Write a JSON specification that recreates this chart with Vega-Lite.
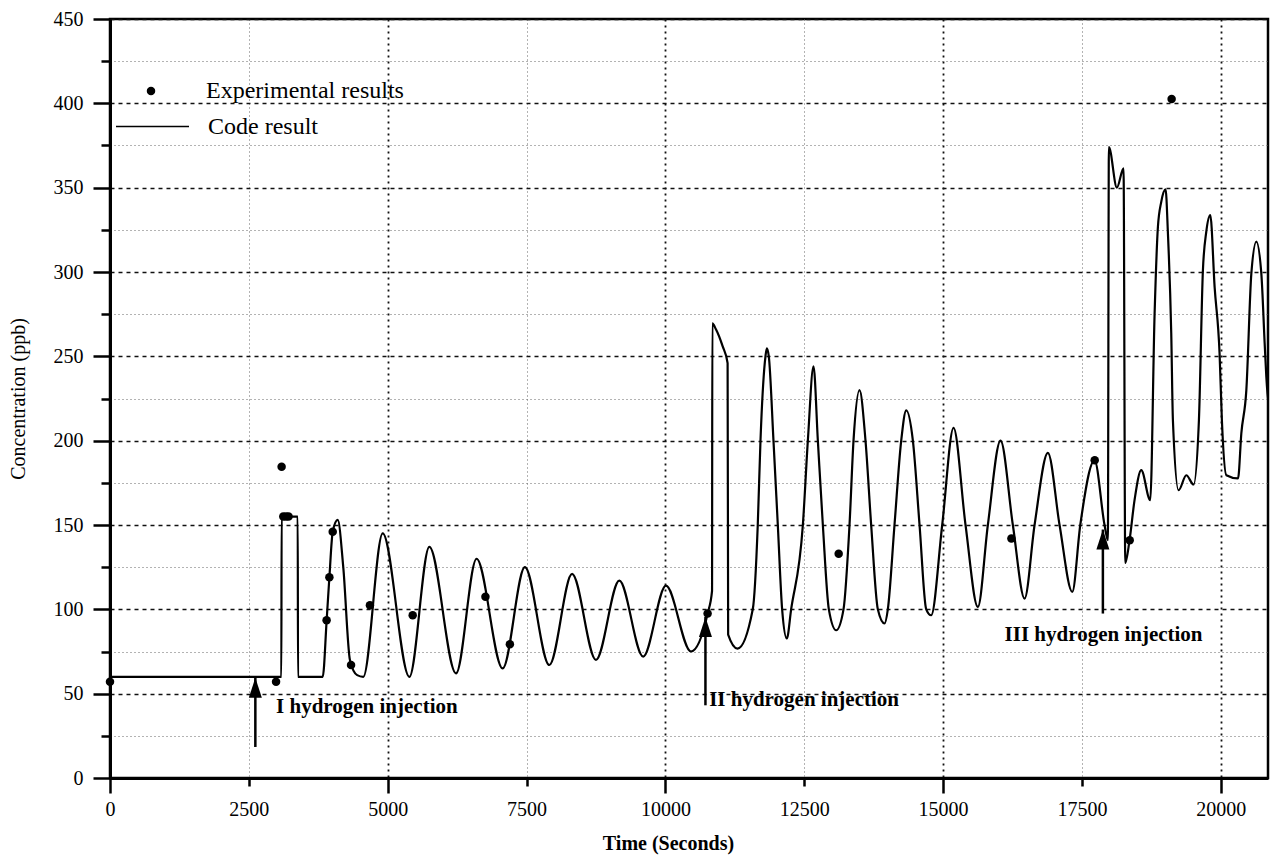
{
  "$schema": "https://vega.github.io/schema/vega-lite/v6.json",
  "width": 1158,
  "height": 759,
  "autosize": {"type": "none"},
  "padding": {"left": 110, "top": 19, "right": 3, "bottom": 82},
  "background": "white",
  "config": {"view": {"stroke": "black", "strokeWidth": 2.5}, "font": "Liberation Serif"},
  "datasets": {
    "code": [
      {"t": 0, "v": 60}, {"t": 3085, "v": 60}, {"t": 3090, "v": 155}, {"t": 3380, "v": 155}, {"t": 3385, "v": 60}, {"t": 3830, "v": 60},
      {"t": 3900, "v": 93}, {"t": 3950, "v": 119}, {"t": 4010, "v": 146}, {"t": 4100, "v": 153}, {"t": 4200, "v": 125}, {"t": 4320, "v": 70}, {"t": 4450, "v": 61}, {"t": 4560, "v": 60},
      {"t": 4910, "v": 145}, {"t": 5390, "v": 60}, {"t": 5750, "v": 137}, {"t": 6230, "v": 62}, {"t": 6600, "v": 130}, {"t": 7070, "v": 65},
      {"t": 7470, "v": 125}, {"t": 7910, "v": 67}, {"t": 8320, "v": 121}, {"t": 8750, "v": 70}, {"t": 9170, "v": 117}, {"t": 9600, "v": 72},
      {"t": 10010, "v": 114}, {"t": 10460, "v": 75}, {"t": 10760, "v": 97.5}, {"t": 10840, "v": 111}, {"t": 10845, "v": 269.5}, {"t": 10910, "v": 266},
      {"t": 11030, "v": 256}, {"t": 11120, "v": 246}, {"t": 11130, "v": 85}, {"t": 11300, "v": 76.7},
      {"t": 11573, "v": 100}, {"t": 11663, "v": 150}, {"t": 11712, "v": 200}, {"t": 11802, "v": 250}, {"t": 11826, "v": 254.7}, {"t": 11862, "v": 250}, {"t": 11946, "v": 200}, {"t": 12024, "v": 150}, {"t": 12102, "v": 100}, {"t": 12186, "v": 82.7},
      {"t": 12264, "v": 100}, {"t": 12475, "v": 150}, {"t": 12565, "v": 200}, {"t": 12667, "v": 244}, {"t": 12745, "v": 200}, {"t": 12835, "v": 150}, {"t": 12943, "v": 100}, {"t": 13075, "v": 87.6},
      {"t": 13207, "v": 100}, {"t": 13315, "v": 150}, {"t": 13387, "v": 200}, {"t": 13495, "v": 230}, {"t": 13603, "v": 200}, {"t": 13705, "v": 150}, {"t": 13825, "v": 100}, {"t": 13945, "v": 91.6},
      {"t": 14005, "v": 100}, {"t": 14125, "v": 150}, {"t": 14246, "v": 200}, {"t": 14336, "v": 218}, {"t": 14456, "v": 200}, {"t": 14576, "v": 150}, {"t": 14696, "v": 100}, {"t": 14786, "v": 96.5},
      {"t": 14984, "v": 150}, {"t": 15188, "v": 207.6}, {"t": 15404, "v": 150}, {"t": 15626, "v": 101.4},
      {"t": 15806, "v": 150}, {"t": 16034, "v": 200}, {"t": 16256, "v": 150}, {"t": 16467, "v": 106.4},
      {"t": 16647, "v": 150}, {"t": 16887, "v": 192.8}, {"t": 17097, "v": 150}, {"t": 17326, "v": 110.3},
      {"t": 17470, "v": 150}, {"t": 17727, "v": 188.4}, {"t": 17907, "v": 150}, {"t": 17967, "v": 141}, {"t": 17985, "v": 374}, {"t": 18129, "v": 350}, {"t": 18249, "v": 361.4},
      {"t": 18280, "v": 127.5}, {"t": 18357, "v": 141}, {"t": 18447, "v": 164.7}, {"t": 18568, "v": 182.5}, {"t": 18730, "v": 164.7}, {"t": 18808, "v": 275}, {"t": 18868, "v": 326.8},
      {"t": 18928, "v": 341.6}, {"t": 19006, "v": 349}, {"t": 19048, "v": 323}, {"t": 19108, "v": 263.6}, {"t": 19138, "v": 212}, {"t": 19240, "v": 170.6}, {"t": 19379, "v": 179.5},
      {"t": 19510, "v": 174}, {"t": 19606, "v": 212}, {"t": 19678, "v": 301}, {"t": 19739, "v": 323.9}, {"t": 19811, "v": 333.7}, {"t": 19889, "v": 291}, {"t": 19978, "v": 251.7},
      {"t": 20020, "v": 212}, {"t": 20100, "v": 179.5}, {"t": 20310, "v": 177.6}, {"t": 20370, "v": 204.4}, {"t": 20460, "v": 230}, {"t": 20550, "v": 299}, {"t": 20640, "v": 318},
      {"t": 20730, "v": 299}, {"t": 20790, "v": 257.7}, {"t": 20820, "v": 237.8}, {"t": 20900, "v": 212}
    ],
    "exp": [
      {"t": 0, "v": 57}, {"t": 2990, "v": 57}, {"t": 3090, "v": 184.5}, {"t": 3120, "v": 155}, {"t": 3170, "v": 155}, {"t": 3215, "v": 155},
      {"t": 3900, "v": 93.5}, {"t": 3950, "v": 119}, {"t": 4010, "v": 146}, {"t": 4340, "v": 67}, {"t": 4680, "v": 102.4}, {"t": 5450, "v": 96.5},
      {"t": 6760, "v": 107.4}, {"t": 7200, "v": 79.3}, {"t": 10760, "v": 97.5}, {"t": 13120, "v": 133}, {"t": 16230, "v": 142},
      {"t": 17730, "v": 188.4}, {"t": 18360, "v": 141}, {"t": 19115, "v": 402.5}
    ],
    "arrows": [
      {"t": 2617, "base": 18.4, "tip": 59.5},
      {"t": 10721, "base": 43.1, "tip": 95.5},
      {"t": 17877, "base": 97.5, "tip": 147.3}
    ],
    "notes": [
      {"t": 2990, "v": 42, "label": "I hydrogen injection"},
      {"t": 10788, "v": 46, "label": "II hydrogen injection"},
      {"t": 16107, "v": 84.6, "label": "III hydrogen injection"}
    ]
  },
  "layer": [
    {
      "data": {"name": "code"},
      "mark": {"type": "line", "interpolate": "monotone", "color": "black", "strokeWidth": 2.2, "clip": true},
      "encoding": {
        "x": {
          "field": "t", "type": "quantitative",
          "scale": {"domain": [0, 20850], "nice": false, "zero": false},
          "axis": {
            "title": "Time (Seconds)", "titleFont": "Liberation Serif", "titleFontSize": 20, "titleFontWeight": "bold", "titleColor": "black", "titlePadding": 14, "titleX": 558,
            "values": [0, 2500, 5000, 7500, 10000, 12500, 15000, 17500, 20000], "format": "d",
            "labelFont": "Liberation Serif", "labelFontSize": 20, "labelColor": "black", "labelFlush": false, "labelOverlap": false,
            "domainColor": "black", "domainWidth": 3, "tickColor": "black", "tickWidth": 2.5,
            "tickSize": {"condition": {"test": "datum.value % 5000 === 0", "value": 15}, "value": 8},
            "labelPadding": {"condition": {"test": "datum.value % 5000 === 0", "value": 6}, "value": 13},
            "grid": true,
            "gridColor": {"condition": {"test": "datum.value % 5000 === 0", "value": "#111111"}, "value": "#666666"},
            "gridDash": {"condition": {"test": "datum.value % 5000 === 0", "value": [2, 4]}, "value": [1, 3]},
            "gridWidth": {"condition": {"test": "datum.value % 5000 === 0", "value": 1.8}, "value": 1}
          }
        },
        "y": {
          "field": "v", "type": "quantitative",
          "scale": {"domain": [0, 450], "nice": false, "zero": false},
          "axis": {
            "title": "Concentration (ppb)", "titleFont": "Liberation Serif", "titleFontSize": 20, "titleFontWeight": "normal", "titleColor": "black", "titlePadding": 25,
            "values": [0, 25, 50, 75, 100, 125, 150, 175, 200, 225, 250, 275, 300, 325, 350, 375, 400, 425, 450],
            "labelExpr": "datum.value % 50 === 0 ? datum.label : ''",
            "labelFont": "Liberation Serif", "labelFontSize": 20, "labelColor": "black", "labelFlush": false, "labelOverlap": false, "labelPadding": 10,
            "domainColor": "black", "domainWidth": 3, "tickColor": "black", "tickWidth": 2.5,
            "tickSize": {"condition": {"test": "datum.value % 50 === 0", "value": 17}, "value": 9},
            "grid": true,
            "gridColor": {"condition": {"test": "datum.value % 50 === 0", "value": "#111111"}, "value": "#666666"},
            "gridDash": {"condition": {"test": "datum.value % 50 === 0", "value": [4, 4]}, "value": [1, 3]},
            "gridWidth": {"condition": {"test": "datum.value % 50 === 0", "value": 1.5}, "value": 1}
          }
        },
        "stroke": {
          "datum": "Code result", "type": "nominal", "scale": {"range": ["black"]},
          "legend": {"title": null, "orient": "none", "legendX": 5, "legendY": 70, "padding": 0, "symbolType": "stroke", "symbolSize": 5329, "symbolStrokeColor": "black", "symbolStrokeWidth": 1.5,
            "labelFont": "Liberation Serif", "labelFontSize": 24, "labelColor": "black", "labelOffset": 18, "labelLimit": 400}
        }
      }
    },
    {
      "data": {"name": "exp"},
      "mark": {"type": "point", "filled": true, "shape": "circle", "size": 72, "opacity": 1},
      "encoding": {
        "x": {"field": "t", "type": "quantitative"},
        "y": {"field": "v", "type": "quantitative"},
        "fill": {
          "datum": "Experimental results", "type": "nominal", "scale": {"range": ["black"]},
          "legend": {"title": null, "orient": "none", "legendX": 29, "legendY": 60, "padding": 0, "symbolType": "circle", "symbolSize": 72, "symbolFillColor": "black", "symbolStrokeWidth": 0, "symbolOpacity": 1,
            "labelFont": "Liberation Serif", "labelFontSize": 24, "labelColor": "black", "labelOffset": 43, "labelLimit": 400}
        }
      }
    },
    {
      "data": {"name": "arrows"},
      "mark": {"type": "rule", "color": "black", "strokeWidth": 2.5},
      "encoding": {
        "x": {"field": "t", "type": "quantitative"},
        "y": {"field": "base", "type": "quantitative"},
        "y2": {"field": "tip"}
      }
    },
    {
      "data": {"name": "arrows"},
      "mark": {"type": "point", "filled": true, "shape": "M0,0L0.65,2L-0.65,2Z", "size": 400, "color": "black", "opacity": 1},
      "encoding": {
        "x": {"field": "t", "type": "quantitative"},
        "y": {"field": "tip", "type": "quantitative"}
      }
    },
    {
      "data": {"name": "notes"},
      "mark": {"type": "text", "align": "left", "baseline": "middle", "font": "Liberation Serif", "fontSize": 21, "fontWeight": "bold", "color": "black"},
      "encoding": {
        "x": {"field": "t", "type": "quantitative"},
        "y": {"field": "v", "type": "quantitative"},
        "text": {"field": "label"}
      }
    }
  ]
}
